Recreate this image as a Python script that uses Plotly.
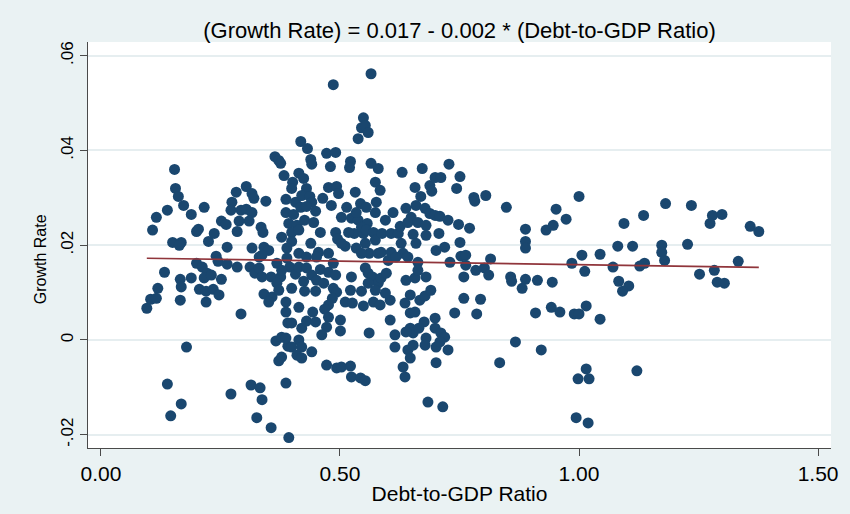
import plotly.graph_objects as go

# Debt-to-GDP ratio (x) and growth rate (y)
debt_ratio = [
    0.096, 0.104, 0.116, 0.154, 0.156, 0.162, 0.139, 0.116, 0.108, 0.173, 0.189, 0.150, 0.168, 0.164,
    0.200, 0.204, 0.133, 0.166, 0.189, 0.168, 0.119, 0.166, 0.200, 0.206, 0.179, 0.139, 0.168, 0.146,
    0.216, 0.225, 0.237, 0.252, 0.262, 0.283, 0.304, 0.274, 0.272, 0.293, 0.304, 0.316, 0.310, 0.289,
    0.285, 0.316, 0.320, 0.264, 0.316, 0.241, 0.245, 0.264, 0.285, 0.312, 0.322, 0.212, 0.222, 0.216,
    0.231, 0.252, 0.220, 0.235, 0.247, 0.220, 0.293, 0.272, 0.314, 0.326, 0.333, 0.337, 0.331,
    0.335, 0.339, 0.345, 0.364, 0.372, 0.376, 0.383, 0.387, 0.387, 0.378, 0.341, 0.351, 0.337, 0.368,
    0.331, 0.337, 0.356, 0.376, 0.368, 0.341, 0.358, 0.351, 0.387, 0.372, 0.387, 0.391, 0.366, 0.378,
    0.391, 0.372, 0.378, 0.387, 0.356, 0.393,
    0.401, 0.399, 0.407, 0.403, 0.393, 0.410, 0.399, 0.399, 0.389, 0.414, 0.389, 0.395, 0.407, 0.378,
    0.414, 0.399, 0.414, 0.399, 0.387, 0.414, 0.399, 0.410, 0.414, 0.414,
    0.418, 0.432, 0.439, 0.441, 0.424, 0.430, 0.420, 0.437, 0.441, 0.418, 0.430, 0.426, 0.449, 0.445,
    0.439, 0.459, 0.464, 0.472, 0.491, 0.480, 0.476, 0.493, 0.497, 0.482, 0.491, 0.495, 0.455, 0.476,
    0.424, 0.441, 0.459, 0.451, 0.476, 0.491, 0.466, 0.486, 0.493, 0.430, 0.451, 0.486, 0.430, 0.426,
    0.449, 0.484, 0.476, 0.468, 0.443, 0.420, 0.430, 0.449, 0.476, 0.472, 0.462, 0.420, 0.441, 0.420,
    0.472, 0.493,
    0.486, 0.565, 0.549, 0.545, 0.553, 0.559, 0.538, 0.522, 0.520, 0.565, 0.580, 0.532, 0.574, 0.584,
    0.514, 0.503, 0.543, 0.555, 0.576, 0.574, 0.524, 0.538, 0.557, 0.534, 0.511, 0.530, 0.518, 0.549,
    0.545, 0.555, 0.570, 0.553, 0.574, 0.503, 0.534, 0.561, 0.580, 0.545, 0.524, 0.553, 0.559, 0.568,
    0.580, 0.586, 0.559, 0.574, 0.522, 0.545, 0.511, 0.526, 0.549, 0.570, 0.501, 0.501, 0.561, 0.503,
    0.522, 0.524, 0.543, 0.553,
    0.584, 0.605, 0.595, 0.597, 0.586, 0.601, 0.595, 0.588, 0.607, 0.611, 0.630, 0.622, 0.628, 0.607,
    0.632, 0.617, 0.638, 0.649, 0.626, 0.642, 0.657, 0.638, 0.657, 0.647, 0.636, 0.647, 0.657, 0.605,
    0.647, 0.653, 0.638, 0.615, 0.615, 0.642, 0.653, 0.647, 0.632, 0.636, 0.642, 0.663, 0.663, 0.653,
    0.659, 0.663, 0.659, 0.672, 0.669,
    0.688, 0.692, 0.678, 0.688, 0.699, 0.709, 0.726, 0.748, 0.771, 0.680, 0.680, 0.707, 0.751, 0.719,
    0.701, 0.699, 0.711, 0.751, 0.728, 0.744, 0.780, 0.782, 0.805, 0.730, 0.753, 0.763, 0.763, 0.784,
    0.759, 0.680, 0.667, 0.678, 0.690, 0.759, 0.740, 0.786, 0.699, 0.676, 0.665, 0.699, 0.711, 0.719,
    0.680, 0.678, 0.701, 0.709, 0.726, 0.701, 0.684, 0.715,
    0.794, 0.848, 0.815, 0.802, 0.811, 0.857, 0.859, 0.888, 0.881, 0.913, 0.944, 0.909, 0.942, 0.960,
    0.990, 1.000, 1.015, 1.044, 0.867, 0.921, 0.834, 0.888, 0.888, 0.888, 0.931, 0.946, 0.952, 0.973,
    1.000, 1.006, 1.044, 0.985, 1.012, 1.071, 1.083, 1.104, 1.091, 1.127, 1.137, 1.094, 1.135, 1.181,
    1.235, 1.279, 1.299, 1.274, 1.358, 1.376, 1.081, 1.112, 1.173, 1.173, 1.179, 1.227, 1.333, 1.252,
    1.283, 1.289, 1.304, 1.015, 0.998, 1.021, 1.121, 0.994, 1.019,
]

growth_rate = [
    0.0067, 0.0086, 0.0088, 0.0360, 0.0320, 0.0303, 0.0274, 0.0259, 0.0232, 0.0284, 0.0265, 0.0206, 0.0206, 0.0200,
    0.0229, 0.0234, 0.0143, 0.0128, 0.0131, 0.0112, 0.0109, 0.0084, 0.0162, 0.0107, -0.0015, -0.0093, -0.0135, -0.0160,
    0.0280, 0.0208, 0.0225, 0.0251, 0.0244, 0.0312, 0.0324, 0.0291, 0.0274, 0.0274, 0.0276, 0.0269, 0.0251, 0.0251,
    0.0229, 0.0309, 0.0299, 0.0196, 0.0194, 0.0177, 0.0166, 0.0160, 0.0154, 0.0154, 0.0141, 0.0154, 0.0141, 0.0131,
    0.0137, 0.0128, 0.0103, 0.0107, 0.0095, 0.0080, 0.0055, -0.0114, -0.0095, -0.0164, -0.0101, -0.0126, 0.0175,
    0.0238, 0.0227, 0.0293, 0.0387, 0.0379, 0.0373, 0.0347, 0.0297, 0.0269, 0.0217, 0.0196, 0.0189, 0.0179, 0.0162,
    0.0152, 0.0133, 0.0133, 0.0133, 0.0120, 0.0097, 0.0091, 0.0080, 0.0080, 0.0105, 0.0059, 0.0036, -0.0002, 0.0006,
    -0.0013, -0.0044, -0.0036, -0.0091, -0.0185, -0.0206,
    0.0333, 0.0320, 0.0291, 0.0265, 0.0246, 0.0242, 0.0227, 0.0208, 0.0194, 0.0183, 0.0173, 0.0154, 0.0139, 0.0147,
    0.0154, 0.0109, 0.0069, 0.0036, 0.0004, 0.0000, -0.0015, -0.0032, 0.0232, 0.0352,
    0.0419, 0.0404, 0.0381, 0.0371, 0.0341, 0.0320, 0.0305, 0.0303, 0.0291, 0.0280, 0.0282, 0.0253, 0.0272, 0.0248,
    0.0204, 0.0227, 0.0299, 0.0394, 0.0396, 0.0366, 0.0322, 0.0324, 0.0309, 0.0284, 0.0227, 0.0213, 0.0185, 0.0183,
    0.0124, 0.0137, 0.0149, 0.0126, 0.0143, 0.0137, 0.0120, 0.0109, 0.0101, 0.0175, 0.0175, 0.0162, 0.0152, 0.0103,
    0.0103, 0.0088, 0.0074, 0.0065, 0.0059, 0.0025, 0.0040, 0.0038, 0.0048, 0.0027, 0.0011, -0.0015, -0.0025, -0.0038,
    -0.0053, -0.0059,
    0.0539, 0.0562, 0.0469, 0.0448, 0.0453, 0.0438, 0.0425, 0.0377, 0.0364, 0.0373, 0.0362, 0.0312, 0.0333, 0.0316,
    0.0280, 0.0259, 0.0288, 0.0280, 0.0291, 0.0269, 0.0257, 0.0253, 0.0246, 0.0269, 0.0198, 0.0225, 0.0227, 0.0225,
    0.0238, 0.0232, 0.0227, 0.0204, 0.0211, 0.0204, 0.0194, 0.0183, 0.0183, 0.0183, 0.0133, 0.0152, 0.0141, 0.0133,
    0.0120, 0.0131, 0.0120, 0.0105, 0.0105, 0.0103, 0.0080, 0.0078, 0.0072, 0.0080, 0.0042, 0.0019, 0.0015, -0.0057,
    -0.0055, -0.0078, -0.0080, -0.0086,
    0.0074, 0.0084, 0.0099, 0.0141, 0.0185, 0.0168, 0.0253, 0.0225, 0.0225, 0.0269, 0.0354, 0.0225, 0.0204, 0.0185,
    0.0183, 0.0175, 0.0278, 0.0259, 0.0240, 0.0248, 0.0322, 0.0126, 0.0131, 0.0095, 0.0078, 0.0057, 0.0059, 0.0042,
    0.0025, 0.0015, 0.0017, 0.0011, -0.0015, -0.0021, -0.0011, -0.0038, -0.0057, -0.0078, 0.0175, 0.0164, 0.0147, 0.0223,
    0.0204, 0.0248, 0.0284, 0.0362, 0.0303,
    0.0326, 0.0314, 0.0278, 0.0267, 0.0263, 0.0261, 0.0253, 0.0244, 0.0236, 0.0242, 0.0221, 0.0225, 0.0206, 0.0196,
    0.0189, 0.0343, 0.0343, 0.0345, 0.0371, 0.0320, 0.0301, 0.0293, 0.0305, 0.0164, 0.0177, 0.0179, 0.0158, 0.0147,
    0.0133, 0.0133, 0.0084, 0.0093, 0.0105, 0.0088, 0.0057, 0.0055, 0.0046, 0.0038, 0.0025, 0.0025, 0.0015, 0.0006,
    0.0004, -0.0011, -0.0015, -0.0004, -0.0021, -0.0048, -0.0131, -0.0141,
    0.0086, 0.0280, 0.0171, 0.0152, 0.0137, 0.0133, 0.0124, 0.0128, 0.0109, 0.0126, 0.0122, 0.0057, 0.0069, 0.0059,
    0.0055, 0.0055, 0.0072, 0.0044, -0.0004, -0.0021, -0.0048, 0.0234, 0.0208, 0.0194, 0.0232, 0.0242, 0.0276, 0.0255,
    0.0303, 0.0179, 0.0181, 0.0162, 0.0145, 0.0154, 0.0124, 0.0114, 0.0103, 0.0156, 0.0162, 0.0246, 0.0263, 0.0288,
    0.0284, 0.0263, 0.0265, 0.0246, 0.0240, 0.0229, 0.0198, 0.0198, 0.0200, 0.0185, 0.0168, 0.0202, 0.0166, 0.0139,
    0.0147, 0.0122, 0.0120, -0.0061, -0.0082, -0.0082, -0.0065, -0.0164, -0.0175,
]

# Fitted line coefficients (shown in the title)
fit_intercept = 0.0174
fit_slope = -0.0015

x_ticks = [0.0, 0.5, 1.0, 1.5]
x_tick_text = ["0.00", "0.50", "1.00", "1.50"]
y_ticks = [-0.02, 0.0, 0.02, 0.04, 0.06]
y_tick_text = ["-.02", "0", ".02", ".04", ".06"]

title_text = "(Growth Rate) = 0.017 - 0.002 * (Debt-to-GDP Ratio)"
x_title = "Debt-to-GDP Ratio"
y_title = "Growth Rate"

x_fit = [min(debt_ratio), max(debt_ratio)]
y_fit = [fit_intercept + fit_slope * v for v in x_fit]

FONT = "Liberation Sans, Arial, sans-serif"
BG = "#EAF2F3"
AXIS = "#4a4a4a"
W, H = 850, 514
ML, MR, MT, MB = 88, 15, 42, 66

fig = go.Figure()
fig.add_trace(go.Scatter(
    x=debt_ratio, y=growth_rate, mode="markers",
    marker=dict(color="#1A476F", size=11, line=dict(width=0)),
    showlegend=False, hoverinfo="x+y",
))
fig.add_trace(go.Scatter(
    x=x_fit, y=y_fit, mode="lines",
    line=dict(color="#90353B", width=1.6),
    showlegend=False,
))

fig.update_layout(
    width=W, height=H,
    paper_bgcolor=BG, plot_bgcolor="white",
    margin=dict(l=ML, r=MR, t=MT, b=MB),
    font=dict(family=FONT, color="black"),
    title=dict(text=title_text, x=0.5, xref="paper", xanchor="center",
               y=1 - 30 / H, yref="container", yanchor="middle",
               font=dict(size=22, family=FONT, color="black")),
    annotations=[dict(
        text=y_title, textangle=-90, showarrow=False,
        xref="paper", yref="paper",
        x=(40 - ML) / (W - ML - MR), y=(H - MB - 259) / (H - MT - MB),
        xanchor="center", yanchor="middle",
        font=dict(size=16, family=FONT, color="black"),
    )],
)
fig.update_xaxes(
    range=[-0.027, 1.527], tickvals=x_ticks, ticktext=x_tick_text,
    showgrid=False, zeroline=False,
    showline=True, linecolor=AXIS, linewidth=1.2,
    ticks="outside", ticklen=7, tickcolor=AXIS, tickwidth=1.2,
    tickfont=dict(size=21, family=FONT, color="black"),
    title=dict(text=x_title, font=dict(size=21, family=FONT, color="black"), standoff=2),
)
fig.update_yaxes(
    range=[-0.0228, 0.0629], tickvals=y_ticks, ticktext=y_tick_text,
    tickangle=-90,
    showgrid=True, gridcolor="#E6EEF0", gridwidth=1.5, zeroline=False,
    showline=True, linecolor=AXIS, linewidth=1.2,
    ticks="outside", ticklen=7, tickcolor=AXIS, tickwidth=1.2,
    tickfont=dict(size=17, family=FONT, color="black"),
)

fig.write_html("out.html")
